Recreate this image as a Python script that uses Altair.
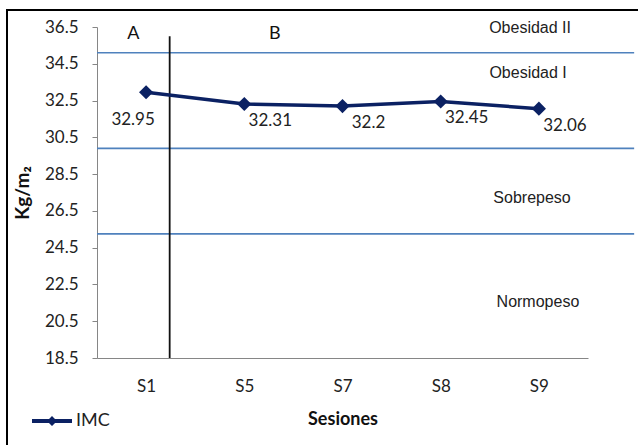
import altair as alt
import pandas as pd

# IMC per session
sessions = ["S1", "S5", "S7", "S8", "S9"]
imc = [32.95, 32.31, 32.2, 32.45, 32.06]
series_name = "IMC"

# BMI category boundaries and zone labels
boundaries = [35.1, 29.9, 25.25]
zone_names = ["Obesidad II", "Obesidad I", "Sobrepeso", "Normopeso"]
zone_x = [4.41, 4.39, 4.43, 4.49]
zone_y = [36.43, 34.0, 27.18, 21.56]

# phase labels and phase divider
phase_names = ["A", "B"]
phase_x = [0.37, 1.81]
phase_y = [36.1, 36.1]
divider_x = 0.74
divider_top = 36.0

y_ticks = [18.5, 20.5, 22.5, 24.5, 26.5, 28.5, 30.5, 32.5, 34.5, 36.5]

NAVY = "#0B2163"
BLUE = "#4F81BD"
CAL = "Lato"
ARIALN = "Liberation Sans Narrow, Liberation Sans, Arial"

df = pd.DataFrame({"session": sessions, "imc": imc})
zones = pd.DataFrame({"name": zone_names, "x": zone_x, "y": zone_y})
phases = pd.DataFrame({"name": phase_names, "x": phase_x, "y": phase_y})
bounds = pd.DataFrame({"y": boundaries, "x0": [0] * 3, "x1": [5.47] * 3})
divider = pd.DataFrame({"x": [divider_x], "y0": [y_ticks[0]], "y1": [divider_top]})

label_expr = "[" + ",".join(f"'{s}'" for s in sessions) + "][floor(datum.value)]"

x_scale = alt.Scale(domain=[0, len(sessions)], nice=False, zero=False)
y_scale = alt.Scale(domain=[y_ticks[0], y_ticks[-1]], nice=False, zero=False)

x_axis = alt.Axis(
    values=[i + 0.5 for i in range(len(sessions))],
    labelExpr=label_expr,
    labelOverlap=False,
    ticks=False,
    grid=False,
    domainColor="#868686",
    labelFont=CAL,
    labelFontSize=17,
    labelColor="#222222",
    labelPadding=20,
    titleFont=CAL,
    titleFontSize=18,
    titleFontWeight="bold",
    titleColor="#111111",
    titlePadding=16,
)
y_axis = alt.Axis(
    values=y_ticks,
    format=".1f",
    labelOverlap=False,
    grid=False,
    tickSize=5,
    tickColor="#868686",
    domainColor="#868686",
    labelFont=CAL,
    labelFontSize=17,
    labelColor="#222222",
    labelPadding=14,
    titleFont=CAL,
    titleFontSize=19,
    titleFontWeight="bold",
    titleColor="#111111",
    titlePadding=12,
)


def xq(field):
    return alt.X(field, scale=x_scale, title="Sesiones", axis=x_axis)


def yq(field):
    return alt.Y(field, scale=y_scale, title="Kg/m₂", axis=y_axis)


base = alt.Chart(df).transform_window(
    idx="row_number()"
).transform_calculate(
    pos="datum.idx - 0.5", serie=f"'{series_name}'"
)

line = base.mark_line(color=NAVY, strokeWidth=3.5).encode(x=xq("pos:Q"), y=yq("imc:Q"))

legend_path = "M-1,-0.1L1,-0.1L1,0.1L-1,0.1Z M-0.25,0L0,-0.25L0.25,0L0,0.25Z"
points = base.mark_point(shape="diamond", filled=True, size=200, opacity=1).encode(
    x=xq("pos:Q"),
    y=yq("imc:Q"),
    color=alt.Color(
        "serie:N",
        scale=alt.Scale(domain=[series_name], range=[NAVY]),
        legend=alt.Legend(
            title=None,
            orient="none",
            legendX=-65,
            legendY=374,
            symbolType=legend_path,
            symbolSize=1600,
            symbolStrokeWidth=0,
            symbolFillColor=NAVY,
            labelFont=CAL,
            labelFontSize=18,
            labelColor="#222222",
            labelOffset=4,
            padding=0,
        ),
    ),
)

first_label = base.transform_filter("datum.idx == 1").mark_text(
    font=CAL, fontSize=17, color="#222222", dx=-13, dy=28
).encode(x=xq("pos:Q"), y=yq("imc:Q"), text="imc:Q")

other_labels = base.transform_filter("datum.idx > 1").mark_text(
    font=CAL, fontSize=17, color="#222222", dx=26, dy=17
).encode(x=xq("pos:Q"), y=yq("imc:Q"), text="imc:Q")

bound_lines = alt.Chart(bounds).mark_rule(color=BLUE, strokeWidth=1.6).encode(
    x=xq("x0:Q"), x2="x1:Q", y=yq("y:Q")
)

divider_line = alt.Chart(divider).mark_rule(color="#111111", strokeWidth=1.8).encode(
    x=xq("x:Q"), y=yq("y0:Q"), y2="y1:Q"
)

zone_text = alt.Chart(zones).mark_text(
    font=ARIALN, fontSize=16, color="#222222"
).encode(x=xq("x:Q"), y=yq("y:Q"), text="name:N")

phase_text = alt.Chart(phases).mark_text(
    font=CAL, fontSize=18, color="#111111"
).encode(x=xq("x:Q"), y=yq("y:Q"), text="name:N")

# outer frame around the whole figure
frame = alt.Chart(df).mark_rect(
    fill="transparent", stroke="#000000", strokeWidth=2
).encode(
    x=alt.value(-90), x2=alt.value(551), y=alt.value(-17), y2=alt.value(428)
)

chart = alt.layer(
    frame, bound_lines, divider_line, line, points, first_label, other_labels,
    zone_text, phase_text
).properties(
    width=491,
    height=331,
    autosize=alt.AutoSizeParams(type="none"),
    padding={"left": 97, "top": 27, "right": 50, "bottom": 87},
    background="white",
).configure_view(
    stroke="transparent"
).configure_axis(
    labelOverlap=False
)

chart.save("out.html", embed_options={"renderer": "svg", "actions": False})
